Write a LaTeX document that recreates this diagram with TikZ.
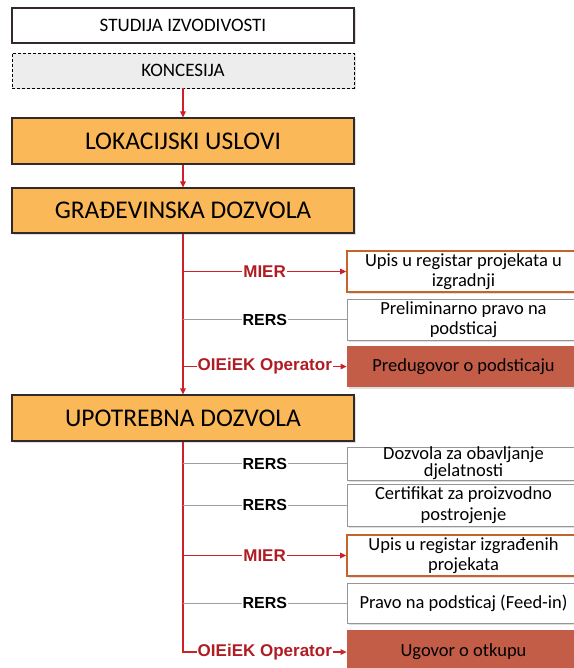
\documentclass[tikz,border=0pt]{standalone}
\usepackage{fontspec}
\setmainfont{Carlito}
\newfontfamily\lblfont{Liberation Sans}
\usetikzlibrary{arrows.meta,shadows}
\definecolor{boxorange}{RGB}{251,184,88}
\definecolor{boxbrown}{RGB}{196,93,72}
\definecolor{lnred}{RGB}{205,32,40}
\definecolor{lblred}{RGB}{176,28,36}
\definecolor{orborder}{RGB}{197,100,40}
\definecolor{dkborder}{RGB}{50,42,42}
\definecolor{gyborder}{RGB}{150,150,150}
\begin{document}
\begin{tikzpicture}[x=1pt,y=-1pt,
  shad/.style={drop shadow={shadow xshift=1.5pt,shadow yshift=-1.5pt,opacity=0.25}},
  leftbox/.style={draw=dkborder, line width=1.1pt, minimum width=342pt, inner sep=0pt, align=center, shad},
  smallfont/.style={font=\fontsize{19}{20}\selectfont},
  bigfont/.style={font=\fontsize{25.5}{26}\selectfont},
  rightbox/.style={draw=gyborder, line width=0.8pt, fill=white, minimum width=233pt, inner sep=0pt, align=center,
    font=\fontsize{18.5}{19.5}\selectfont, shad},
  orbox/.style={rightbox, draw=orborder, line width=1.6pt},
  brbox/.style={rightbox, draw=none, fill=boxbrown},
  redln/.style={draw=lnred, line width=1.3pt},
  redarr/.style={redln, -{Triangle[length=6pt,width=5.5pt]}},
  grayln/.style={draw=gray!75, line width=0.9pt},
  lbl/.style={fill=white, inner sep=1pt, text=lblred, font=\lblfont\bfseries\fontsize{17}{17}\selectfont},
  lblk/.style={lbl, text=black, font=\lblfont\bfseries\fontsize{16}{16}\selectfont}
]
\useasboundingbox (0,0) rectangle (573,668);
\fill[white] (0,0) rectangle (573,668);

% left column
\node[leftbox, fill=white, minimum height=35pt, smallfont] (stud) at (183,25.5) {STUDIJA IZVODIVOSTI};
\node[leftbox, fill=gray!14, draw=black, densely dashed, line width=0.9pt, minimum height=35pt, smallfont] (konc) at (183,70.5) {KONCESIJA};
\node[leftbox, fill=boxorange, minimum height=46pt, bigfont] (lok) at (183,141) {LOKACIJSKI USLOVI};
\node[leftbox, fill=boxorange, minimum height=45pt, bigfont] (grad) at (183,210.5) {GRAĐEVINSKA DOZVOLA};
\node[leftbox, fill=boxorange, minimum height=46pt, bigfont] (upo) at (183,418) {UPOTREBNA DOZVOLA};

% right column
\node[orbox, minimum height=41pt] (r1) at (463.5,271.5) {Upis u registar projekata u\\izgradnji};
\node[rightbox, minimum height=41pt] (r2) at (463.5,319.5) {Preliminarno pravo na\\podsticaj};
\node[brbox, minimum height=41pt] (r3) at (463.5,366.5) {Predugovor o podsticaju};
\node[rightbox, minimum height=33pt, font=\fontsize{18.5}{17}\selectfont] (r4) at (463.5,463.5) {Dozvola za obavljanje\\djelatnosti};
\node[rightbox, minimum height=42pt, font=\fontsize{18.5}{21}\selectfont] (r5) at (463.5,505) {Certifikat za proizvodno\\postrojenje};
\node[orbox, minimum height=41pt] (r6) at (463.5,555.5) {Upis u registar izgrađenih\\projekata};
\node[rightbox, minimum height=40pt] (r7) at (463.5,603) {Pravo na podsticaj (Feed-in)};
\node[brbox, minimum height=45pt] (r8) at (463.5,652) {Ugovor o otkupu};

% main flow
\draw[redarr] (konc.south) -- (lok.north);
\draw[redarr] (lok.south) -- (grad.north);
\draw[redarr] (grad.south) -- (upo.north);

% branches from GRADJEVINSKA
\draw[redarr] (grad.south |- r1.west) -- node[lbl]{MIER} (r1.west);
\draw[grayln] (grad.south |- r2.west) -- node[lblk]{RERS} (r2.west);
\draw[redarr] (grad.south |- r3.west) -- node[lbl]{OIEiEK Operator} (r3.west);

% branches from UPOTREBNA
\draw[redarr] (upo.south) |- node[lbl, pos=0.75]{OIEiEK Operator} (r8.west);
\draw[grayln] (upo.south |- r4.west) -- node[lblk]{RERS} (r4.west);
\draw[grayln] (upo.south |- r5.west) -- node[lblk]{RERS} (r5.west);
\draw[redarr] (upo.south |- r6.west) -- node[lbl]{MIER} (r6.west);
\draw[grayln] (upo.south |- r7.west) -- node[lblk]{RERS} (r7.west);
\end{tikzpicture}
\end{document}
